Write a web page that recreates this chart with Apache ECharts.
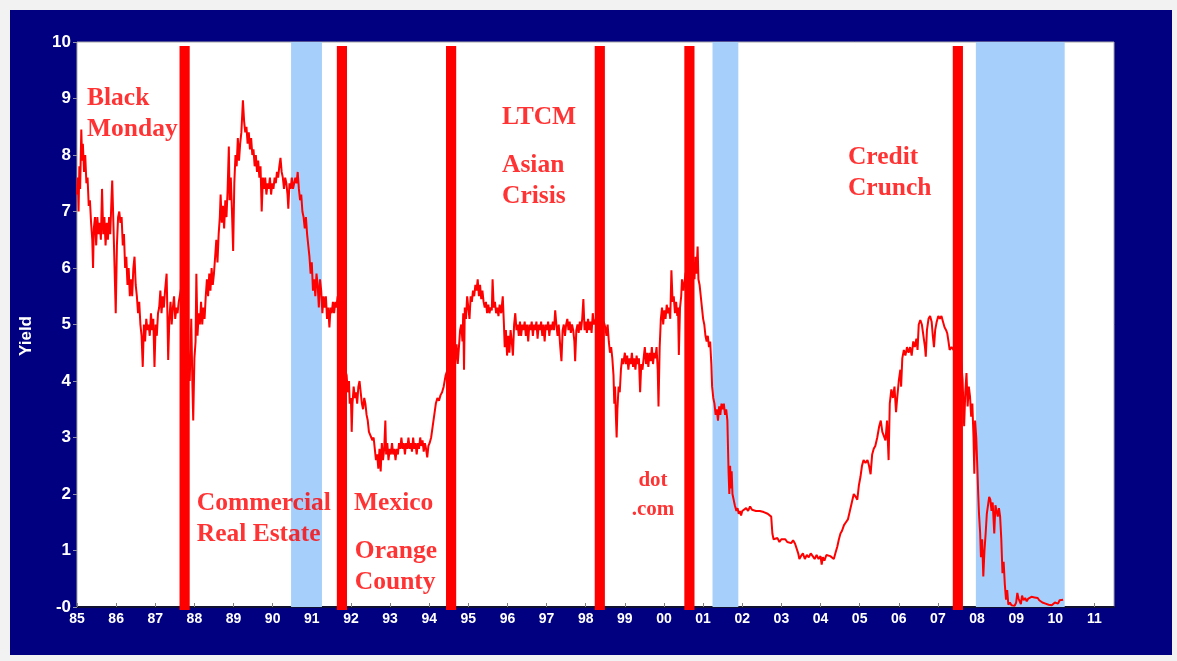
<!DOCTYPE html>
<html>
<head>
<meta charset="utf-8">
<script src="https://cdn.jsdelivr.net/npm/echarts/dist/echarts.min.js"></script>
<style>
html,body{margin:0;padding:0;background:#f2f2f2;}
#frame{position:absolute;left:10px;top:10px;width:1162px;height:645px;background:#000080;}
#chart{position:absolute;left:0;top:0;width:1177px;height:661px;}
</style>
</head>
<body>
<div id="frame"></div>
<div id="chart"></div>
<script>
// ---- Data ----
const xTickYears = [1985,1986,1987,1988,1989,1990,1991,1992,1993,1994,1995,1996,1997,1998,1999,2000,2001,2002,2003,2004,2005,2006,2007,2008,2009,2010,2011];

// shaded (recession) periods: [start, end] in decimal years
const recessions = [[1990.47, 1991.26], [2001.24, 2001.90], [2007.97, 2010.24]];

// crisis marker dates (decimal years)
const eventDates = [1987.75, 1991.77, 1994.56, 1998.36, 2000.65, 2007.51];

// annotation texts and their anchor (year, yield) in data units
const annotationTexts = ['Black\nMonday', 'Commercial\nReal Estate', 'Mexico', 'Orange\nCounty', 'LTCM', 'Asian\nCrisis', 'Credit\nCrunch', 'dot\n.com'];
const annotationYears = [1985.256, 1988.06, 1992.08, 1992.10, 1995.86, 1995.86, 2004.70, 1999.72];
const annotationYields = [9.283, 2.106, 2.106, 1.265, 8.947, 8.097, 8.239, 2.487];

// yield series [decimal year, yield]
const yields1985 = [[1985.00,7.3],[1985.02,7.6],[1985.04,7.0],[1985.06,7.8],[1985.08,7.4],[1985.11,8.45],[1985.13,7.9],[1985.15,8.2],[1985.18,7.7],[1985.21,8.0],[1985.24,7.5],[1985.27,7.6],[1985.30,7.1],[1985.33,7.2],[1985.36,6.8],[1985.39,6.5],[1985.41,6.0],[1985.43,6.7],[1985.46,6.9],[1985.49,6.4],[1985.52,6.9],[1985.55,6.6],[1985.58,6.8],[1985.61,6.5],[1985.64,7.4],[1985.67,6.6],[1985.70,6.9],[1985.73,6.4],[1985.76,6.8],[1985.79,6.5],[1985.82,6.9],[1985.85,6.6],[1985.88,7.2],[1985.90,7.55],[1985.93,6.8],[1985.96,6.0],[1985.99,5.2],[1986.02,6.4],[1986.05,6.9],[1986.08,7.0],[1986.11,6.8],[1986.14,6.9],[1986.17,6.4],[1986.20,6.6],[1986.23,6.0],[1986.26,6.2],[1986.29,5.7],[1986.32,6.0],[1986.35,5.5],[1986.38,5.8],[1986.41,5.5],[1986.44,6.0],[1986.47,6.2],[1986.50,5.7],[1986.53,5.5],[1986.56,5.2],[1986.59,5.4],[1986.62,5.0],[1986.65,4.8],[1986.68,4.25],[1986.71,5.0],[1986.74,4.7],[1986.77,5.1],[1986.80,4.9],[1986.83,5.0],[1986.86,4.8],[1986.89,5.2],[1986.92,4.9],[1986.95,5.1],[1986.98,4.25],[1987.01,5.0],[1987.04,4.8],[1987.07,5.2],[1987.10,5.3],[1987.13,5.6],[1987.16,5.2],[1987.19,5.5],[1987.22,5.3],[1987.25,5.6],[1987.29,5.9],[1987.31,5.2],[1987.33,4.37],[1987.36,5.1],[1987.39,5.4],[1987.42,5.0],[1987.45,5.3],[1987.48,5.5],[1987.51,5.1],[1987.54,5.3],[1987.57,5.2],[1987.60,5.4],[1987.65,5.6],[1987.70,5.8],[1987.75,5.3],[1987.80,5.0],[1987.85,4.4],[1987.88,4.0],[1987.92,5.1],[1987.95,3.9],[1987.97,3.3],[1988.00,4.4],[1988.03,4.7],[1988.05,5.9],[1988.08,4.8],[1988.11,5.2],[1988.14,5.0],[1988.17,5.4],[1988.20,5.0],[1988.23,5.3],[1988.26,5.1],[1988.29,5.5],[1988.32,5.8],[1988.35,5.5],[1988.38,5.9],[1988.41,5.6],[1988.44,6.0],[1988.47,5.7],[1988.50,5.9],[1988.53,6.2],[1988.56,6.5],[1988.59,6.1],[1988.62,6.6],[1988.65,6.9],[1988.67,7.3],[1988.70,6.8],[1988.73,7.1],[1988.76,6.7],[1988.79,7.2],[1988.82,6.9],[1988.85,7.4],[1988.88,8.15],[1988.90,7.2],[1988.93,7.6],[1988.96,7.0],[1988.99,6.3],[1989.02,7.5],[1989.05,8.0],[1989.08,7.8],[1989.11,8.3],[1989.14,7.9],[1989.17,8.2],[1989.20,8.4],[1989.24,8.97],[1989.27,8.6],[1989.30,8.4],[1989.33,8.5],[1989.36,8.2],[1989.39,8.4],[1989.42,8.1],[1989.45,8.3],[1989.48,8.0],[1989.51,8.1],[1989.54,7.8],[1989.57,8.0],[1989.60,7.7],[1989.63,7.9],[1989.66,7.6],[1989.69,7.8],[1989.72,7.0],[1989.75,7.6],[1989.78,7.4],[1989.81,7.6],[1989.84,7.3],[1989.87,7.5],[1989.90,7.4],[1989.93,7.6],[1989.96,7.3],[1989.99,7.5]];

const yields1990 = [[1990.02,7.4],[1990.05,7.6],[1990.08,7.5],[1990.11,7.7],[1990.14,7.6],[1990.17,7.8],[1990.20,7.95],[1990.23,7.7],[1990.26,7.6],[1990.29,7.4],[1990.32,7.6],[1990.35,7.5],[1990.38,7.3],[1990.40,7.05],[1990.43,7.5],[1990.46,7.4],[1990.49,7.6],[1990.52,7.4],[1990.55,7.5],[1990.58,7.6],[1990.61,7.5],[1990.64,7.7],[1990.67,7.4],[1990.70,7.2],[1990.73,7.3],[1990.76,7.0],[1990.79,6.9],[1990.82,6.7],[1990.85,6.9],[1990.88,6.6],[1990.91,6.4],[1990.94,6.2],[1990.97,5.9],[1991.00,6.1],[1991.03,5.6],[1991.06,5.8],[1991.09,5.5],[1991.12,5.9],[1991.15,5.7],[1991.18,5.3],[1991.21,5.8],[1991.24,5.6],[1991.27,5.2],[1991.30,5.5],[1991.33,5.3],[1991.36,5.5],[1991.39,5.1],[1991.42,5.3],[1991.45,4.95],[1991.48,5.3],[1991.51,5.2],[1991.54,5.4],[1991.57,5.2],[1991.60,5.4],[1991.63,5.3],[1991.66,5.5],[1991.70,5.0],[1991.75,4.6],[1991.80,4.3],[1991.85,4.2],[1991.89,4.1],[1991.92,3.8],[1991.95,4.0],[1991.97,3.6],[1992.00,3.7],[1992.02,3.1],[1992.04,3.6],[1992.07,3.9],[1992.10,3.7],[1992.13,3.8],[1992.16,3.6],[1992.19,3.9],[1992.22,4.0],[1992.25,3.8],[1992.28,3.6],[1992.31,3.5],[1992.34,3.7],[1992.37,3.6],[1992.40,3.4],[1992.43,3.3],[1992.46,3.1],[1992.49,3.1],[1992.52,3.0],[1992.55,2.95],[1992.58,3.0],[1992.61,2.8],[1992.64,2.6],[1992.67,2.7],[1992.70,2.45],[1992.73,2.8],[1992.76,2.4],[1992.79,2.9],[1992.82,2.6],[1992.85,2.8],[1992.88,3.3],[1992.90,2.7],[1992.93,2.9],[1992.96,2.6],[1992.99,2.8],[1993.02,2.7],[1993.05,2.9],[1993.08,2.7],[1993.11,2.8],[1993.14,2.6],[1993.17,2.8],[1993.20,2.7],[1993.23,2.9],[1993.26,2.8],[1993.29,3.0],[1993.32,2.8],[1993.35,2.9],[1993.38,2.7],[1993.41,2.9],[1993.44,2.8],[1993.47,3.0],[1993.50,2.8],[1993.53,2.9],[1993.56,2.75],[1993.59,3.0],[1993.62,2.8],[1993.65,2.9],[1993.68,2.7],[1993.71,2.9],[1993.74,2.8],[1993.77,3.0],[1993.80,2.85],[1993.83,2.95],[1993.86,2.75],[1993.89,2.9],[1993.92,2.8],[1993.95,2.65],[1993.98,2.85],[1994.01,2.9],[1994.05,3.0],[1994.09,3.2],[1994.13,3.4],[1994.17,3.6],[1994.21,3.7],[1994.25,3.65],[1994.29,3.75],[1994.33,3.8],[1994.37,3.9],[1994.42,4.1],[1994.47,4.2],[1994.52,4.4],[1994.57,4.5],[1994.62,4.6],[1994.66,4.3],[1994.70,4.65],[1994.73,4.3],[1994.76,4.6],[1994.79,4.9],[1994.82,5.0],[1994.85,4.7],[1994.87,5.2],[1994.89,4.2],[1994.91,5.3],[1994.94,5.1],[1994.97,5.5],[1995.00,5.3],[1995.03,5.1],[1995.06,5.5],[1995.09,5.4],[1995.12,5.6],[1995.15,5.5],[1995.18,5.7],[1995.21,5.6],[1995.24,5.8],[1995.27,5.5],[1995.30,5.7],[1995.33,5.45],[1995.36,5.6],[1995.39,5.4],[1995.42,5.3],[1995.45,5.4],[1995.48,5.2],[1995.51,5.35],[1995.54,5.2],[1995.57,5.3],[1995.60,5.25],[1995.62,5.8],[1995.65,5.3],[1995.68,5.4],[1995.71,5.2],[1995.74,5.3],[1995.77,5.15],[1995.80,5.35],[1995.84,5.2],[1995.88,5.5],[1995.91,5.0],[1995.93,4.6],[1995.96,4.9],[1995.99,4.45],[1996.02,4.8],[1996.05,4.5],[1996.08,4.9],[1996.11,4.7],[1996.14,4.45],[1996.17,5.0],[1996.20,5.2],[1996.23,4.9],[1996.26,5.0],[1996.29,4.8],[1996.32,5.05],[1996.35,4.8],[1996.38,5.0],[1996.41,4.9],[1996.44,5.05],[1996.47,4.8],[1996.50,5.0],[1996.53,4.7],[1996.56,5.0],[1996.59,4.9],[1996.62,5.05],[1996.65,4.8],[1996.68,5.0],[1996.71,4.9],[1996.74,5.05],[1996.77,4.75],[1996.80,5.0],[1996.83,4.9],[1996.86,5.05],[1996.89,4.8],[1996.92,5.0],[1996.95,4.7],[1996.98,5.0],[1997.01,4.9],[1997.04,5.05],[1997.07,4.8],[1997.10,5.0],[1997.13,4.9],[1997.16,5.05],[1997.19,4.9],[1997.22,5.25],[1997.25,5.0],[1997.28,4.8],[1997.31,5.0],[1997.35,4.6],[1997.38,4.35],[1997.41,4.9],[1997.44,5.0],[1997.47,4.8],[1997.50,5.0],[1997.53,5.1],[1997.56,4.9],[1997.59,5.05],[1997.62,4.85],[1997.65,5.0],[1997.68,4.9],[1997.71,4.7],[1997.73,4.35],[1997.76,4.9],[1997.79,5.0],[1997.82,4.85],[1997.85,5.05],[1997.88,4.9],[1997.91,5.1],[1997.94,5.45],[1997.97,4.9],[1998.00,5.05],[1998.03,4.85],[1998.06,5.1],[1998.09,4.9],[1998.12,5.05],[1998.15,4.85],[1998.18,5.2],[1998.21,5.0],[1998.26,5.1],[1998.31,5.0],[1998.36,5.1],[1998.41,5.0],[1998.46,5.05],[1998.50,4.95],[1998.53,4.8],[1998.56,5.0],[1998.59,4.7],[1998.62,4.5],[1998.65,4.6],[1998.68,4.4],[1998.71,4.1],[1998.73,3.6],[1998.75,3.9],[1998.77,3.4],[1998.79,3.0],[1998.81,3.5],[1998.84,3.9],[1998.87,3.8],[1998.90,4.2],[1998.93,4.4],[1998.96,4.3]];

const yields1999 = [[1999.00,4.5],[1999.03,4.3],[1999.06,4.45],[1999.09,4.2],[1999.12,4.4],[1999.15,4.3],[1999.18,4.5],[1999.21,4.25],[1999.24,4.4],[1999.27,4.2],[1999.30,4.45],[1999.33,4.3],[1999.36,4.4],[1999.39,3.8],[1999.42,4.3],[1999.45,4.2],[1999.48,4.4],[1999.51,4.6],[1999.54,4.3],[1999.57,4.5],[1999.60,4.25],[1999.63,4.5],[1999.66,4.35],[1999.69,4.6],[1999.72,4.3],[1999.75,4.5],[1999.78,4.4],[1999.81,4.6],[1999.84,4.2],[1999.86,3.55],[1999.89,4.6],[1999.92,5.1],[1999.95,5.3],[1999.98,5.0],[2000.01,5.25],[2000.04,5.1],[2000.07,5.35],[2000.10,5.2],[2000.13,5.3],[2000.16,5.1],[2000.19,5.96],[2000.22,5.4],[2000.25,5.5],[2000.28,5.2],[2000.31,5.4],[2000.34,5.15],[2000.36,5.3],[2000.38,4.46],[2000.41,5.3],[2000.44,5.5],[2000.46,5.8],[2000.50,5.6],[2000.55,5.9],[2000.60,6.0],[2000.65,6.1],[2000.70,5.9],[2000.75,6.1],[2000.78,5.8],[2000.80,6.2],[2000.83,5.9],[2000.86,6.38],[2000.88,5.8],[2000.91,5.7],[2000.94,5.5],[2000.97,5.3],[2001.00,5.1],[2001.03,5.0],[2001.06,4.8],[2001.09,4.7],[2001.12,4.8],[2001.15,4.6],[2001.18,4.7],[2001.21,4.3],[2001.23,3.9],[2001.26,3.7],[2001.29,3.6],[2001.32,3.4],[2001.35,3.5],[2001.38,3.3],[2001.41,3.55],[2001.44,3.4],[2001.47,3.6],[2001.50,3.5],[2001.53,3.6],[2001.56,3.4],[2001.59,3.5],[2001.62,3.3],[2001.65,2.4],[2001.67,2.0],[2001.69,2.5],[2001.71,2.1],[2001.73,2.4],[2001.75,2.0],[2001.78,1.9],[2001.81,1.8],[2001.85,1.7],[2001.88,1.75],[2001.91,1.65],[2001.94,1.7],[2001.97,1.62],[2002.00,1.7],[2002.05,1.68],[2002.10,1.75],[2002.15,1.7],[2002.20,1.78],[2002.25,1.72],[2002.30,1.75],[2002.35,1.7],[2002.40,1.73],[2002.45,1.7],[2002.50,1.72],[2002.55,1.68],[2002.60,1.7],[2002.65,1.65],[2002.70,1.68],[2002.74,1.6],[2002.77,1.3],[2002.80,1.2],[2002.85,1.18],[2002.90,1.22],[2002.95,1.15],[2003.00,1.2],[2003.05,1.17],[2003.10,1.2],[2003.15,1.15],[2003.20,1.18],[2003.25,1.13],[2003.30,1.18],[2003.35,1.12],[2003.40,1.15],[2003.43,0.95],[2003.46,0.85],[2003.50,0.9],[2003.55,0.95],[2003.60,0.85],[2003.65,0.92],[2003.70,0.88],[2003.75,0.95],[2003.80,0.9],[2003.85,0.85],[2003.90,0.92],[2003.95,0.85],[2004.00,0.9],[2004.03,0.75],[2004.06,0.88],[2004.10,0.82],[2004.15,0.92],[2004.20,0.95],[2004.25,0.9],[2004.30,0.88],[2004.34,0.85],[2004.38,0.95],[2004.43,1.07],[2004.47,1.2],[2004.51,1.3],[2004.55,1.35],[2004.60,1.45],[2004.65,1.5],[2004.70,1.55],[2004.75,1.7],[2004.80,1.85],[2004.85,2.0],[2004.90,1.95],[2004.94,1.9],[2004.98,2.15],[2005.02,2.3],[2005.06,2.5],[2005.10,2.6],[2005.15,2.55],[2005.20,2.6],[2005.24,2.5],[2005.28,2.35],[2005.32,2.7],[2005.36,2.8],[2005.40,2.85],[2005.45,3.0],[2005.50,3.2],[2005.54,3.3],[2005.58,3.1],[2005.62,3.1],[2005.66,2.95],[2005.70,3.3],[2005.74,2.6],[2005.77,3.6],[2005.81,3.85],[2005.85,3.7],[2005.89,3.9],[2005.93,3.45],[2005.96,3.7],[2006.00,4.0]];

const yields2006 = [[2006.04,4.2],[2006.06,3.9],[2006.09,4.4],[2006.13,4.55],[2006.17,4.45],[2006.21,4.6],[2006.25,4.5],[2006.29,4.6],[2006.33,4.45],[2006.37,4.7],[2006.41,4.6],[2006.45,4.75],[2006.48,4.55],[2006.51,5.0],[2006.55,5.08],[2006.59,5.0],[2006.63,4.8],[2006.67,4.6],[2006.69,4.43],[2006.72,4.9],[2006.76,5.1],[2006.80,5.15],[2006.84,5.05],[2006.87,4.8],[2006.90,4.6],[2006.93,4.9],[2006.97,5.05],[2007.01,5.15],[2007.05,5.1],[2007.09,5.15],[2007.13,5.05],[2007.17,4.95],[2007.21,4.9],[2007.24,4.84],[2007.27,4.7],[2007.30,4.55],[2007.35,4.6],[2007.45,4.5],[2007.55,4.4],[2007.60,4.3],[2007.63,4.02],[2007.65,3.6],[2007.67,3.2],[2007.70,3.8],[2007.73,4.14],[2007.76,3.55],[2007.79,3.9],[2007.82,3.73],[2007.85,3.37],[2007.88,3.6],[2007.91,3.0],[2007.93,2.36],[2007.95,3.3],[2007.98,3.0],[2008.01,2.42],[2008.03,2.0],[2008.05,1.65],[2008.08,1.3],[2008.10,0.88],[2008.13,1.2],[2008.16,0.54],[2008.19,1.0],[2008.22,1.3],[2008.25,1.65],[2008.28,1.8],[2008.31,1.95],[2008.34,1.9],[2008.37,1.7],[2008.40,1.85],[2008.44,1.3],[2008.47,1.8],[2008.50,1.7],[2008.53,1.6],[2008.56,1.75],[2008.59,1.6],[2008.62,1.2],[2008.65,0.6],[2008.68,0.8],[2008.71,0.4],[2008.74,0.13],[2008.77,0.3],[2008.80,0.04],[2008.84,0.08],[2008.88,0.03],[2008.92,0.06],[2008.96,0.02],[2009.00,0.08],[2009.03,0.25],[2009.06,0.15],[2009.09,0.18],[2009.12,0.05],[2009.15,0.2],[2009.19,0.12],[2009.23,0.16],[2009.27,0.1],[2009.31,0.15],[2009.35,0.14],[2009.39,0.18],[2009.43,0.15],[2009.47,0.17],[2009.51,0.14],[2009.55,0.16],[2009.59,0.12],[2009.63,0.14],[2009.67,0.08],[2009.71,0.1],[2009.75,0.06],[2009.79,0.08],[2009.83,0.04],[2009.87,0.06],[2009.91,0.03],[2009.95,0.05],[2009.99,0.08],[2010.03,0.1],[2010.07,0.06],[2010.11,0.12],[2010.15,0.14],[2010.20,0.13]];

const yieldSeries = yields1985.concat(yields1990, yields1999, yields2006);

// ---- Chart ----
const chart = echarts.init(document.getElementById('chart'), null, {renderer: 'canvas'});
const EVENT_HALF_WIDTH = 0.13;
const EVENT_TOP = 9.93;
const annotationData = annotationTexts.map((t, i) => ({value: [annotationYears[i], annotationYields[i]], text: t, small: t.indexOf('.com') >= 0}));

const option = {
  animation: false,
  backgroundColor: 'transparent',
  grid: {left: 77, right: 63, top: 42, bottom: 54, show: true, backgroundColor: '#ffffff', borderColor: '#a8a8a8', borderWidth: 1},
  xAxis: {
    type: 'value', min: 1985, max: 2011.5, interval: 1,
    axisLine: {show: true, onZero: false, lineStyle: {color: '#101030', width: 2}},
    axisTick: {show: true, inside: true, length: 4, lineStyle: {color: '#808080'}},
    axisLabel: {
      color: '#ffffff', fontFamily: 'Liberation Sans, Arial, sans-serif', fontWeight: 'bold', fontSize: 14, margin: 5,
      showMaxLabel: false,
      formatter: v => (xTickYears.indexOf(v) >= 0 ? String(v % 100).padStart(2, '0') : '')
    },
    splitLine: {show: false}
  },
  yAxis: {
    type: 'value', min: 0, max: 10, interval: 1,
    axisLine: {show: false},
    axisTick: {show: true, length: 4, lineStyle: {color: '#9090a8'}},
    axisLabel: {color: '#ffffff', fontFamily: 'Liberation Sans, Arial, sans-serif', fontWeight: 'bold', fontSize: 17, margin: 6,
      formatter: v => (v === 0 ? '-0' : String(v))},
    splitLine: {show: false}
  },
  graphic: [{
    type: 'text', left: 18, top: 316, rotation: Math.PI / 2,
    style: {text: 'Yield', fill: '#ffffff', font: 'bold 17px "Liberation Sans", Arial, sans-serif'}
  }],
  series: [
    {
      name: 'recessions', type: 'custom', z: 1, silent: true,
      data: recessions,
      encode: {x: [0, 1]},
      renderItem: (params, api) => {
        const p0 = api.coord([api.value(0), 10]);
        const p1 = api.coord([api.value(1), 0]);
        return {type: 'rect', shape: {x: p0[0], y: p0[1], width: p1[0] - p0[0], height: p1[1] - p0[1]}, style: {fill: '#a6d0fb'}};
      }
    },
    {
      name: 'Yield', type: 'line', z: 2, data: yieldSeries, showSymbol: false, symbol: 'none',
      lineStyle: {color: '#ff0000', width: 2}, silent: true
    },
    {
      name: 'events', type: 'custom', z: 3, silent: true,
      data: eventDates.map(d => [d]),
      encode: {x: 0},
      renderItem: (params, api) => {
        const d = api.value(0);
        const p0 = api.coord([d - EVENT_HALF_WIDTH, EVENT_TOP]);
        const p1 = api.coord([d + EVENT_HALF_WIDTH, 0]);
        return {type: 'rect', shape: {x: p0[0], y: p0[1], width: p1[0] - p0[0], height: p1[1] - p0[1] + 3}, style: {fill: '#ff0000'}};
      }
    },
    {
      name: 'annotations', type: 'scatter', z: 4, silent: true, symbolSize: 0,
      data: annotationData.map(a => ({
        value: a.value,
        label: {
          show: true, position: [0, 0], formatter: a.text,
          align: a.small ? 'center' : 'left', verticalAlign: 'top',
          color: '#ff0000', fontFamily: '"Liberation Serif", "Times New Roman", serif', fontWeight: 'bold',
          fontSize: a.small ? 21 : 25.5, lineHeight: a.small ? 29 : 31
        }
      }))
    }
  ]
};
chart.setOption(option);
</script>
</body>
</html>
